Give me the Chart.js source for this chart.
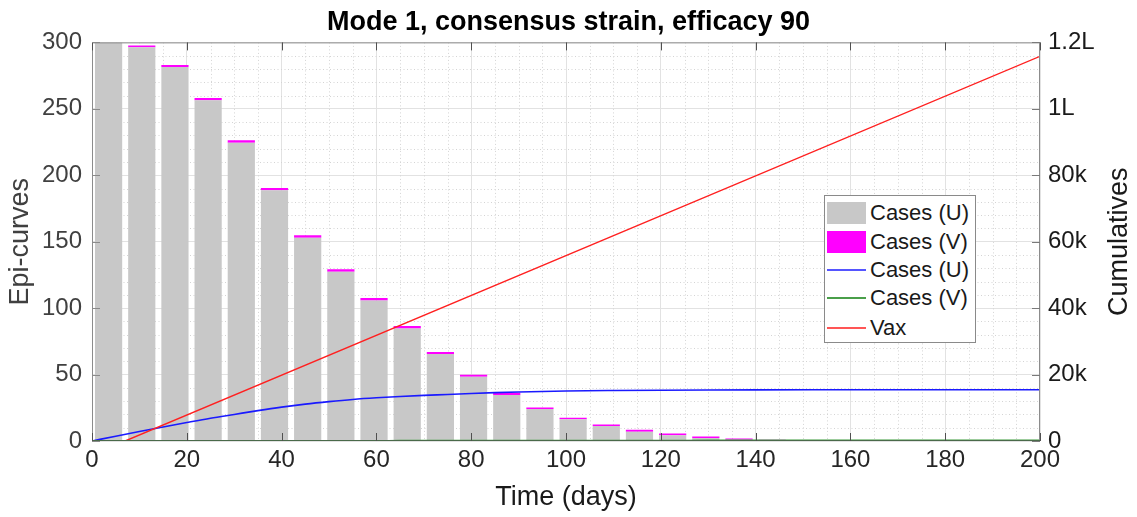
<!DOCTYPE html>
<html>
<head>
<meta charset="utf-8">
<script src="https://cdn.jsdelivr.net/npm/chart.js@4.4.1/dist/chart.umd.min.js"></script>
<style>
html,body{margin:0;padding:0;background:#fff;}
#wrap{position:relative;width:1137px;height:517px;}
#legend{position:absolute;left:824px;top:195px;width:152px;height:148px;border:1px solid #8a8a8a;background:#fff;box-sizing:border-box;font-family:"Liberation Sans",Arial,sans-serif;font-size:22px;color:#1a1a1a;}
#legend .row{position:absolute;left:2px;height:28px;display:flex;align-items:center;white-space:nowrap;}
#legend .icon{width:39px;height:28px;position:relative;margin-right:4px;}
</style>
</head>
<body>
<div id="wrap"><canvas id="c"></canvas><div id="legend"></div></div>
<script>
const titleText = 'Mode 1, consensus strain, efficacy 90';
const xLabel = 'Time (days)';
const yLeftLabel = 'Epi-curves';
const yRightLabel = 'Cumulatives';

// weekly bins (mid-points, days)
const weekMid = [3.5, 10.5, 17.5, 24.5, 31.5, 38.5, 45.5, 52.5, 59.5, 66.5, 73.5, 80.5, 87.5, 94.5, 101.5, 108.5, 115.5, 122.5, 129.5, 136.5, 143.5, 150.5, 157.5];
// daily cases, unvaccinated (grey) and vaccinated (magenta, stacked on top)
const casesU = [301, 296.3, 281.5, 256.5, 224.5, 188.7, 153, 127.4, 105.7, 84.7, 65.4, 48.3, 34.6, 24, 16.3, 11.3, 7, 4.3, 2.2, 1.0, 0.4, 0.15, 0.05];
const casesV = [1.5, 1.3, 1.5, 1.6, 1.8, 1.8, 1.8, 1.9, 1.9, 1.8, 1.5, 1.5, 1.7, 1.3, 1.2, 1.2, 1.5, 1.4, 1.1, 0.9, 0.6, 0.5, 0.3];

// cumulative curves (right axis)
const cumDays = [0, 5, 10, 15, 20, 25, 30, 35, 40, 45, 50, 55, 60, 65, 70, 75, 80, 85, 90, 95, 100, 110, 120, 130, 140, 160, 200];
const cumU = [0, 1450, 2850, 4200, 5550, 6850, 8000, 9150, 10200, 11100, 11850, 12500, 13000, 13400, 13750, 14000, 14300, 14550, 14750, 14920, 15050, 15200, 15300, 15360, 15400, 15430, 15450];
const cumV = [0, 10, 20, 30, 40, 50, 60, 70, 80, 90, 100, 110, 120, 130, 140, 148, 155, 162, 168, 174, 180, 190, 198, 205, 210, 216, 220];
const vaxDays = [0, 7, 200];
const vaxCum = [0, 0, 115800];

const xTicks = [0, 20, 40, 60, 80, 100, 120, 140, 160, 180, 200];
const leftTicks = [0, 50, 100, 150, 200, 250, 300];
const rightTickValues = [0, 20000, 40000, 60000, 80000, 100000, 120000];
const rightTickLabels = ['0', '20k', '40k', '60k', '80k', '1L', '1.2L'];

const FONT = '"Liberation Sans", Arial, Helvetica, sans-serif';
const colU = '#c8c8c8', colV = '#ff00ff', colBlue = '#1a1aff', colGreen = '#3a9a3a', colRed = '#ff2020';

const pts = (xs, ys) => xs.map((x, i) => ({x: x, y: ys[i]}));

const datasets = [
  {type: 'line', label: 'Vax', data: pts(vaxDays, vaxCum), yAxisID: 'y2', borderColor: colRed, borderWidth: 1.4, pointRadius: 0, tension: 0, order: 0},
  {type: 'line', label: 'Cases (U)', data: pts(cumDays, cumU), yAxisID: 'y2', borderColor: colBlue, borderWidth: 1.6, pointRadius: 0, cubicInterpolationMode: 'monotone', order: 1},
  {type: 'line', label: 'Cases (V)', data: pts(cumDays, cumV), yAxisID: 'y2', borderColor: colGreen, borderWidth: 1.4, pointRadius: 0, cubicInterpolationMode: 'monotone', order: 2},
  {type: 'bar', label: 'Cases (U)', data: pts(weekMid, casesU), yAxisID: 'y', backgroundColor: colU, borderWidth: 0, stack: 'cases', barPercentage: 0.82, categoryPercentage: 1, order: 3},
  {type: 'bar', label: 'Cases (V)', data: pts(weekMid, casesV), yAxisID: 'y', backgroundColor: colV, borderWidth: 0, stack: 'cases', barPercentage: 0.82, categoryPercentage: 1, order: 4}
];

// legend entries (order as in reference)
const legendItems = [
  {label: 'Cases (U)', kind: 'box', color: colU},
  {label: 'Cases (V)', kind: 'box', color: colV},
  {label: 'Cases (U)', kind: 'line', color: '#5555ff'},
  {label: 'Cases (V)', kind: 'line', color: '#4a9f4a'},
  {label: 'Vax', kind: 'line', color: '#ff5555'}
];
(function buildLegend(){
  const lg = document.getElementById('legend');
  const centers = [16.5, 45.8, 73.5, 101.8, 131.5];
  legendItems.forEach((it, i) => {
    const row = document.createElement('div');
    row.className = 'row';
    row.style.top = (centers[i] - 14) + 'px';
    const ic = document.createElement('div');
    ic.className = 'icon';
    const m = document.createElement('div');
    m.style.position = 'absolute';
    m.style.left = '0px';
    m.style.width = '39px';
    if (it.kind === 'box') { m.style.top = '3px'; m.style.height = '22px'; m.style.background = it.color; }
    else { m.style.top = '13px'; m.style.height = '0px'; m.style.borderTop = '2px solid ' + it.color; }
    ic.appendChild(m);
    const t = document.createElement('span');
    t.textContent = it.label;
    row.appendChild(ic); row.appendChild(t);
    lg.appendChild(row);
  });
})();

const decor = {
  id: 'decor',
  beforeDatasetsDraw(chart) {
    const {ctx, chartArea: a, scales} = chart;
    ctx.save();
    ctx.strokeStyle = '#d4d4d4';
    ctx.lineWidth = 1;
    ctx.setLineDash([1, 2.5]);
    for (let d = 5; d < 200; d += 5) {
      if (d % 20 === 0) continue;
      const px = Math.round(scales.x.getPixelForValue(d)) + 0.5;
      ctx.beginPath(); ctx.moveTo(px, a.top); ctx.lineTo(px, a.bottom); ctx.stroke();
    }
    for (let v = 10; v < 300; v += 10) {
      if (v % 50 === 0) continue;
      const py = Math.round(scales.y.getPixelForValue(v)) + 0.5;
      ctx.beginPath(); ctx.moveTo(a.left, py); ctx.lineTo(a.right, py); ctx.stroke();
    }
    ctx.restore();
  },
  afterDatasetsDraw(chart) {
    const {ctx, chartArea: a, scales} = chart;
    ctx.save();
    ctx.lineWidth = 1;
    ctx.strokeStyle = '#8c8c8c';
    ctx.beginPath();
    ctx.moveTo(a.left + 0.5, a.bottom); ctx.lineTo(a.left + 0.5, a.top + 0.5);
    ctx.lineTo(a.right - 0.5, a.top + 0.5); ctx.lineTo(a.right - 0.5, a.bottom);
    ctx.stroke();
    ctx.strokeStyle = '#4a6a4a';
    ctx.beginPath(); ctx.moveTo(a.left, a.bottom - 0.5); ctx.lineTo(a.right, a.bottom - 0.5); ctx.stroke();
    ctx.strokeStyle = '#505050';
    xTicks.forEach(d => {
      const px = Math.round(scales.x.getPixelForValue(d)) + 0.5;
      ctx.beginPath(); ctx.moveTo(px, a.bottom); ctx.lineTo(px, a.bottom - 8); ctx.stroke();
      ctx.beginPath(); ctx.moveTo(px, a.top); ctx.lineTo(px, a.top + 8); ctx.stroke();
    });
    ctx.strokeStyle = '#8a8a8a';
    leftTicks.forEach(v => {
      const py = Math.round(scales.y.getPixelForValue(v)) + 0.5;
      ctx.beginPath(); ctx.moveTo(a.left, py); ctx.lineTo(a.left + 8, py); ctx.stroke();
    });
    ctx.strokeStyle = '#7a7a7a';
    rightTickValues.forEach(v => {
      const py = Math.round(scales.y2.getPixelForValue(v)) + 0.5;
      ctx.beginPath(); ctx.moveTo(a.right, py); ctx.lineTo(a.right - 8, py); ctx.stroke();
    });
    ctx.restore();
  },
  afterDraw(chart) {
    const {ctx, chartArea: a} = chart;
    ctx.save();
    ctx.translate(1120, (a.top + a.bottom) / 2);
    ctx.rotate(-Math.PI / 2);
    ctx.textAlign = 'center';
    ctx.textBaseline = 'middle';
    ctx.fillStyle = '#1a1a1a';
    ctx.font = '27px ' + FONT;
    ctx.fillText(yRightLabel, 0, 0);
    ctx.restore();
  }
};

new Chart(document.getElementById('c'), {
  data: {datasets: datasets},
  options: {
    responsive: true,
    maintainAspectRatio: false,
    animation: false,
    layout: {padding: 0},
    plugins: {
      legend: {display: false},
      tooltip: {enabled: false},
      title: {display: true, text: titleText, color: '#000', font: {family: FONT, size: 27, weight: 'bold'}, padding: {top: 6, bottom: 4}}
    },
    scales: {
      x: {
        type: 'linear', min: 0, max: 200, stacked: true, offset: false,
        afterBuildTicks: s => { s.ticks = xTicks.map(v => ({value: v})); },
        ticks: {autoSkip: false, maxRotation: 0, padding: 5, color: '#262626', font: {family: FONT, size: 24}},
        grid: {color: '#e2e2e2', drawTicks: false, lineWidth: 1, offset: false},
        border: {display: false},
        title: {display: true, text: xLabel, color: '#1a1a1a', font: {family: FONT, size: 27}, padding: {top: 4, bottom: 3}},
        afterFit: s => { s.height = 76; }
      },
      y: {
        position: 'left', min: 0, max: 300, stacked: true,
        afterBuildTicks: s => { s.ticks = leftTicks.map(v => ({value: v})); },
        ticks: {padding: 10, color: '#404040', font: {family: FONT, size: 24}},
        grid: {color: '#e2e2e2', drawTicks: false, lineWidth: 1},
        border: {display: false},
        title: {display: true, text: yLeftLabel, color: '#404040', font: {family: FONT, size: 27}, padding: {top: 4, bottom: 0}},
        afterFit: s => { s.width = 92; }
      },
      y2: {
        position: 'right', min: 0, max: 120000,
        afterBuildTicks: s => { s.ticks = rightTickValues.map(v => ({value: v})); },
        ticks: {padding: 8, color: '#1a1a1a', font: {family: FONT, size: 24}, callback: (v, i) => rightTickLabels[i]},
        grid: {display: false, drawTicks: false},
        border: {display: false},
        afterFit: s => { s.width = 97; }
      }
    }
  },
  plugins: [decor]
});
</script>
</body>
</html>
